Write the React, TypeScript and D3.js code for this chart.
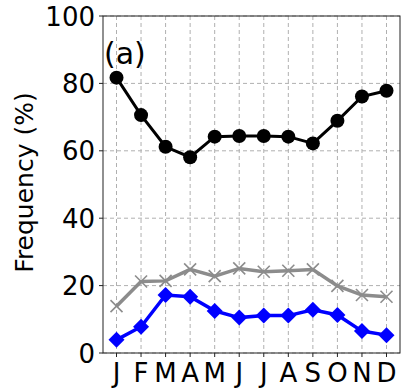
import React from "react";
import * as d3 from "d3";

const months = ["J", "F", "M", "A", "M", "J", "J", "A", "S", "O", "N", "D"];
const blackSeries = [81.7, 70.6, 61.2, 58.1, 64.2, 64.4, 64.4, 64.2, 62.2, 68.9, 76.1, 77.8];
const graySeries = [13.9, 21.2, 21.4, 24.8, 22.8, 25.1, 24.1, 24.4, 24.8, 19.9, 17.2, 16.7];
const blueSeries = [3.9, 7.8, 17.2, 16.7, 12.5, 10.5, 11.1, 11.1, 12.8, 11.3, 6.5, 5.3];
const yTicks = [0, 20, 40, 60, 80, 100];

const W = 403;
const H = 389;
const left = 103;
const right = 400;
const top = 16;
const bottom = 353;
const FONT = "DejaVu Sans, sans-serif";
const FS = 26;

export default function App() {
  const x = d3.scaleLinear().domain([-0.55, 11.55]).range([left, right]);
  const y = d3.scaleLinear().domain([0, 100]).range([bottom, top]);
  const line = d3
    .line<number>()
    .x((_, i) => x(i))
    .y((d) => y(d));

  return (
    <svg
      width={W}
      height={H}
      style={{ position: "absolute", left: 0, top: 0, background: "#fff" }}
      fontFamily={FONT}
    >
      {/* grid */}
      {yTicks.map((t) => (
        <line
          key={"gy" + t}
          x1={left}
          x2={right}
          y1={y(t)}
          y2={y(t)}
          stroke="#b0b0b0"
          strokeWidth={1}
          strokeDasharray="4,3"
        />
      ))}
      {months.map((m, i) => (
        <line
          key={"gx" + i}
          x1={x(i)}
          x2={x(i)}
          y1={top}
          y2={bottom}
          stroke="#b0b0b0"
          strokeWidth={1}
          strokeDasharray="4,3"
        />
      ))}
      {/* lines */}
      <path d={line(blackSeries) || ""} fill="none" stroke="#000" strokeWidth={3} />
      {blackSeries.map((v, i) => (
        <circle key={"bc" + i} cx={x(i)} cy={y(v)} r={7} fill="#000" />
      ))}
      <path d={line(graySeries) || ""} fill="none" stroke="#8c8c8c" strokeWidth={3.5} />
      {graySeries.map((v, i) => (
        <g key={"gm" + i} stroke="#8c8c8c" strokeWidth={1.6}>
          <line x1={x(i) - 6} x2={x(i) + 6} y1={y(v) - 6} y2={y(v) + 6} />
          <line x1={x(i) - 6} x2={x(i) + 6} y1={y(v) + 6} y2={y(v) - 6} />
        </g>
      ))}
      <path d={line(blueSeries) || ""} fill="none" stroke="#0000ff" strokeWidth={3.5} />
      {blueSeries.map((v, i) => (
        <path
          key={"bd" + i}
          d={`M${x(i)},${y(v) - 8}L${x(i) + 8},${y(v)}L${x(i)},${y(v) + 8}L${x(i) - 8},${y(v)}Z`}
          fill="#0000ff"
        />
      ))}
      {/* frame */}
      <rect x={left} y={top} width={right - left} height={bottom - top} fill="none" stroke="#222" strokeWidth={1} />
      {/* y ticks */}
      {yTicks.map((t) => (
        <g key={"yt" + t}>
          <line x1={left - 4} x2={left} y1={y(t)} y2={y(t)} stroke="#222" />
          <text x={left - 8} y={y(t) + 9.5} textAnchor="end" fontSize={FS} fill="#000">
            {t}
          </text>
        </g>
      ))}
      {/* x ticks */}
      {months.map((m, i) => (
        <g key={"xt" + i}>
          <line x1={x(i)} x2={x(i)} y1={bottom} y2={bottom + 4} stroke="#222" />
          <text x={x(i)} y={bottom + 29} textAnchor="middle" fontSize={FS} fill="#000">
            {m}
          </text>
        </g>
      ))}
      <text
        transform={`translate(33,${(top + bottom) / 2 - 2}) rotate(-90)`}
        textAnchor="middle"
        fontSize={25}
        fill="#000"
      >
        Frequency (%)
      </text>
      <text x={104} y={64} fontSize={30} fill="#000">
        (a)
      </text>
    </svg>
  );
}
